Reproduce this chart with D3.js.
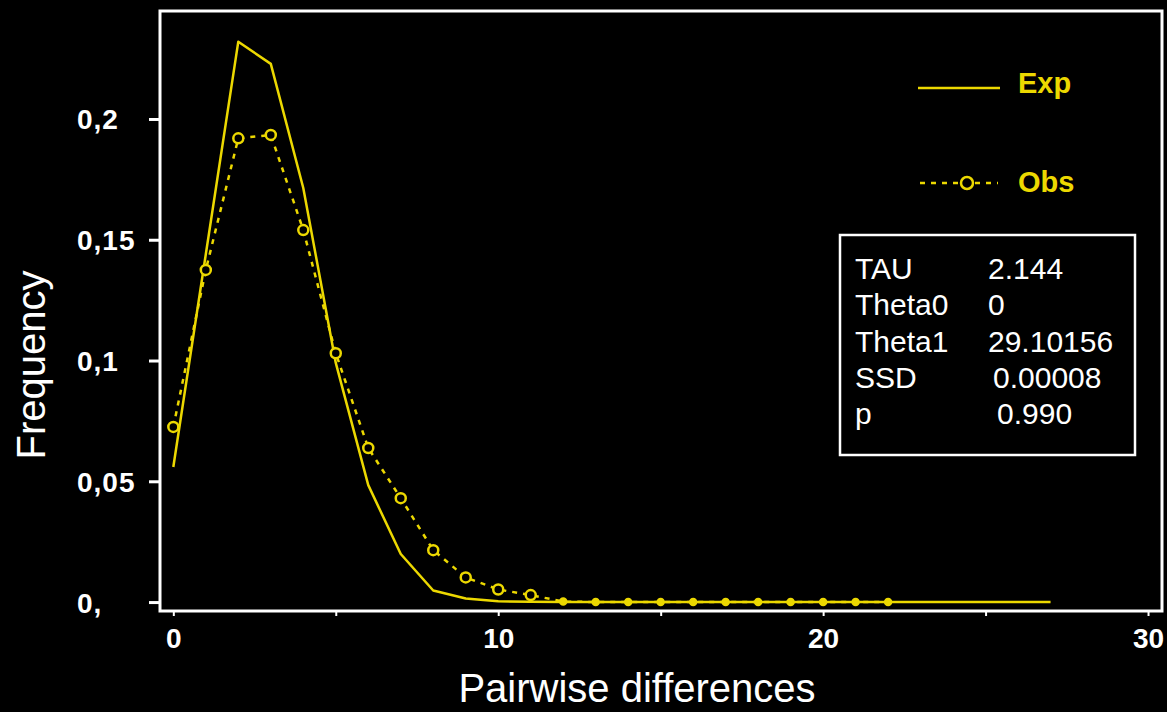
<!DOCTYPE html>
<html>
<head>
<meta charset="utf-8">
<script src="https://cdn.jsdelivr.net/npm/d3@7"></script>
<style>
  body { margin: 0; background: #000; }
  svg { display: block; }
</style>
</head>
<body>
<div id="chart"></div>
<script>
/** Data */

var expX = [0, 1, 2, 3, 4, 5, 6, 7, 8, 9, 10, 11, 12, 13, 14, 15, 16, 17, 18, 19, 20, 21, 22, 23, 24, 25, 26, 27];
var expY = [0.0559, 0.144, 0.232, 0.2228, 0.1714, 0.099, 0.0484, 0.0199, 0.0048, 0.0015, 0.0003, 0.0001, 0, 0, 0, 0, 0, 0, 0, 0, 0, 0, 0, 0, 0, 0, 0, 0];

var obsX = [0, 1, 2, 3, 4, 5, 6, 7, 8, 9, 10, 11, 12, 13, 14, 15, 16, 17, 18, 19, 20, 21, 22];
var obsY = [0.0725, 0.1375, 0.192, 0.1934, 0.154, 0.103, 0.0638, 0.043, 0.0215, 0.0102, 0.0052, 0.0029, 0.0002, 0, 0, 0, 0, 0, 0, 0, 0, 0, 0];

var yTicks = [0, 0.05, 0.1, 0.15, 0.2];
var yTickLabels = ["0,", "0,05", "0,1", "0,15", "0,2"];
var xTicks = [0, 5, 10, 15, 20, 25, 30];
var xTickLabels = ["0", "", "10", "", "20", "", "30"];

var statNames = ["TAU", "Theta0", "Theta1", "SSD", "p"];
var statValues = ["2.144", "0", "29.10156", "0.00008", "0.990"];

var seriesNames = ["Exp", "Obs"];

/** Layout */

var W = 1167, H = 712;
var frame = {left: 160, top: 11, right: 1162, bottom: 611};
var YELLOW = "#ecd800";
var TICK_FONT = "'Liberation Sans', Arial, sans-serif";
var PLAIN_FONT = "'Liberation Sans', Arial, sans-serif";

drawChart();

function drawChart() {
  var svg = d3.select("#chart")
    .append("svg")
      .attr("width", W)
      .attr("height", H)
      .style("background", "#000");

  var x = d3.scaleLinear()
    .domain([-0.41, 30.43])
    .range([frame.left, frame.right]);

  var y = d3.scaleLinear()
    .domain([-0.0037, 0.2447])
    .range([frame.bottom, frame.top]);

  // AXES //

  var yg = svg.append("g")
    .attr("transform", "translate(" + frame.left + ",0)")
    .call(d3.axisLeft(y)
      .tickValues(yTicks)
      .tickFormat(function(d, i) { return yTickLabels[i]; })
      .tickSize(11)
      .tickSizeOuter(0));
  yg.select(".domain").remove();
  yg.selectAll("line").attr("stroke", "#fff").attr("stroke-width", 3);
  yg.selectAll("text")
    .attr("text-anchor", "start")
    .attr("x", 77 - frame.left)
    .attr("dy", null)
    .attr("y", 10)
    .style("font-family", TICK_FONT)
    .style("font-weight", "bold")
    .style("font-size", "28px")
    .style("letter-spacing", "1px")
    .attr("fill", "#fff");

  var xg = svg.append("g")
    .attr("transform", "translate(0," + frame.bottom + ")")
    .call(d3.axisBottom(x)
      .tickValues(xTicks)
      .tickFormat(function(d, i) { return xTickLabels[i]; })
      .tickSize(5)
      .tickSizeOuter(0));
  xg.select(".domain").remove();
  xg.selectAll("line").attr("stroke", "#fff").attr("stroke-width", 2);
  xg.selectAll("text")
    .attr("dy", null)
    .attr("y", 37)
    .style("font-family", TICK_FONT)
    .style("font-weight", "bold")
    .style("font-size", "28px")
    .attr("fill", "#fff");

  // frame
  svg.append("rect")
    .attr("x", frame.left)
    .attr("y", frame.top)
    .attr("width", frame.right - frame.left)
    .attr("height", frame.bottom - frame.top)
    .attr("fill", "none")
    .attr("stroke", "#fff")
    .attr("stroke-width", 3);

  // axis titles
  svg.append("text")
    .attr("text-anchor", "middle")
    .attr("x", 637)
    .attr("y", 702)
    .style("font-family", PLAIN_FONT)
    .style("font-size", "40px")
    .attr("fill", "#fff")
    .text("Pairwise differences");

  svg.append("text")
    .attr("text-anchor", "middle")
    .attr("transform", "translate(45,365) rotate(-90)")
    .style("font-family", PLAIN_FONT)
    .style("font-size", "40px")
    .attr("fill", "#fff")
    .text("Frequency");

  // SERIES //

  var line = d3.line()
    .x(function(d) { return x(d[0]); })
    .y(function(d) { return y(d[1]); });

  svg.append("path")
    .datum(d3.zip(expX, expY))
    .attr("fill", "none")
    .attr("stroke", YELLOW)
    .attr("stroke-width", 2.5)
    .attr("stroke-linejoin", "round")
    .attr("d", line);

  var obsData = d3.zip(obsX, obsY);

  svg.append("path")
    .datum(obsData)
    .attr("fill", "none")
    .attr("stroke", YELLOW)
    .attr("stroke-width", 2.5)
    .attr("stroke-dasharray", "5,6")
    .attr("d", line);

  svg.append("g")
    .selectAll("circle")
    .data(obsData)
    .enter()
    .append("circle")
      .attr("cx", function(d) { return x(d[0]); })
      .attr("cy", function(d) { return y(d[1]); })
      .attr("r", function(d) { return d[1] > 0.001 ? 5 : 3; })
      .attr("fill", function(d) { return d[1] > 0.001 ? "#000" : YELLOW; })
      .attr("stroke", YELLOW)
      .attr("stroke-width", 2.5);

  // LEGEND //

  var legend = svg.append("g");

  legend.append("line")
    .attr("x1", 918).attr("x2", 1000)
    .attr("y1", 88).attr("y2", 88)
    .attr("stroke", YELLOW)
    .attr("stroke-width", 2.5);

  legend.append("line")
    .attr("x1", 920).attr("x2", 998)
    .attr("y1", 183).attr("y2", 183)
    .attr("stroke", YELLOW)
    .attr("stroke-width", 2.5)
    .attr("stroke-dasharray", "5,6");

  legend.append("circle")
    .attr("cx", 967).attr("cy", 183).attr("r", 6)
    .attr("fill", "#000")
    .attr("stroke", YELLOW)
    .attr("stroke-width", 2.5);

  legend.selectAll("text")
    .data(seriesNames)
    .enter()
    .append("text")
      .attr("x", 1018)
      .attr("y", function(d, i) { return 93 + i * 99; })
      .style("font-family", TICK_FONT)
      .style("font-weight", "bold")
      .style("font-size", "29px")
      .attr("fill", YELLOW)
      .text(function(d) { return d; });

  // STATS BOX //

  var box = svg.append("g");

  box.append("rect")
    .attr("x", 840)
    .attr("y", 235)
    .attr("width", 295)
    .attr("height", 220)
    .attr("fill", "#000")
    .attr("stroke", "#fff")
    .attr("stroke-width", 2.5);

  var valueX = [988, 988, 988, 993, 997];

  box.selectAll(".stat-name")
    .data(statNames)
    .enter()
    .append("text")
      .attr("class", "stat-name")
      .attr("x", 855)
      .attr("y", function(d, i) { return 279 + i * 36.3; })
      .style("font-family", PLAIN_FONT)
      .style("font-size", "30px")
      .attr("fill", "#fff")
      .text(function(d) { return d; });

  box.selectAll(".stat-value")
    .data(statValues)
    .enter()
    .append("text")
      .attr("class", "stat-value")
      .attr("x", function(d, i) { return valueX[i]; })
      .attr("y", function(d, i) { return 279 + i * 36.3; })
      .style("font-family", PLAIN_FONT)
      .style("font-size", "30px")
      .attr("fill", "#fff")
      .text(function(d) { return d; });
}
</script>
</body>
</html>
